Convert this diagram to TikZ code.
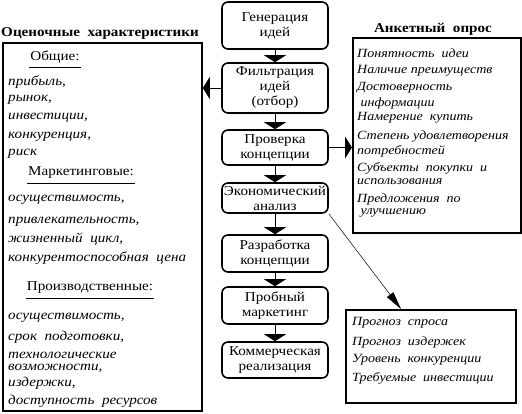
\documentclass[tikz,border=0pt]{standalone}
\usepackage{fontspec}
\setmainfont[FakeStretch=1.12]{Liberation Serif}
\usetikzlibrary{arrows.meta}
\tikzset{
  stage/.style={draw,line width=1.6pt,rounded corners=6pt,minimum width=106pt,align=center,inner sep=0pt,font=\fontsize{13.5}{15}\selectfont},
  panel/.style={draw,line width=1.8pt,anchor=north west},
  item/.style={anchor=west,inner sep=0pt,font=\fontsize{13.5}{14}\selectfont\itshape},
  answer/.style={item,font=\fontsize{12.5}{14}\selectfont\itshape},
  head/.style={inner xsep=1pt,inner ysep=4pt,font=\fontsize{13.5}{14}\selectfont},
  title/.style={font=\fontsize{13.5}{14}\selectfont\bfseries},
  flow/.style={-{Triangle[width=22pt,length=7pt]},line width=0.8pt},
  probe/.style={-{Triangle[width=8pt,length=18pt]},line width=0.5pt}
}
\begin{document}
\begin{tikzpicture}[x=1pt,y=-1pt]
\useasboundingbox (0,0) rectangle (522,414);
\node[stage,minimum height=47pt] (gen) at (275,25.5) {Генерация\\идей};
\node[stage,minimum height=50pt] (filtr) at (275,88) {Фильтрация\\идей\\(отбор)};
\node[stage,minimum height=35pt] (prov) at (275,147.5) {Проверка\\концепции};
\node[stage,minimum height=30pt] (econ) at (275,198) {Экономический\\анализ};
\node[stage,minimum height=37pt] (razr) at (275,253.5) {Разработка\\концепции};
\node[stage,minimum height=37pt] (prob) at (275,305.5) {Пробный\\маркетинг};
\node[stage,minimum height=36pt] (komm) at (275,360) {Коммерческая\\реализация};
\draw[flow] (gen) -- (filtr);
\draw[flow] (filtr) -- (prov);
\draw[flow] (prov) -- (econ);
\draw[flow] (econ) -- (razr);
\draw[flow] (razr) -- (prob);
\draw[flow] (prob) -- (komm);
\node[title] (ocenkaTitle) at (100,33) {Оценочные\ \ характеристики};
\node[panel,minimum width=199pt,minimum height=368pt] (ocenka) at (2,42) {};
\node[head] (obsh) at (55,57) {Общие:};
\draw[line width=0.8pt] (obsh.south west) -- (obsh.south east);
\foreach \t/\y [count=\i] in {{прибыль,}/82,{рынок,}/100,{инвестиции,}/118,{конкуренция,}/137,риск/154}
  \node[item] (obsh\i) at (8,\y) {\t};
\node[head] (mark) at (81,173) {Маркетинговые:};
\draw[line width=0.8pt] (mark.south west) -- (mark.south east);
\foreach \t/\y [count=\i] in {{осуществимость,}/200,{привлекательность,}/222,{жизненный\ \ цикл,}/239,{конкурентоспособная\ \ цена}/258}
  \node[item] (mark\i) at (8,\y) {\t};
\node[head] (proizv) at (90,288) {Производственные:};
\draw[line width=0.8pt] (proizv.south west) -- (proizv.south east);
\foreach \t/\y [count=\i] in {{осуществимость,}/318,{срок\ \ подготовки,}/337,технологические/355,{возможности,}/368,{издержки,}/383,{доступность\ \ ресурсов}/401}
  \node[item] (proizv\i) at (8,\y) {\t};
\node[title] (anketaTitle) at (433,29) {Анкетный\ \ опрос};
\node[panel,minimum width=168pt,minimum height=195pt] (anketa) at (352,37) {};
\foreach \t/\y [count=\i] in {{Понятность\ \ идеи}/53,{Наличие преимуществ}/71,Достоверность/88,{\ информации}/103,{Намерение\ \ купить}/118,{Степень удовлетворения}/137,потребностей/151,{Субъекты\ \ покупки\ \ и}/168,использования/182,{Предложения\ \ по}/199,{\ улучшению}/213}
  \node[answer] (anketa\i) at (357,\y) {\t};
\node[panel,minimum width=170pt,minimum height=93pt] (prognoz) at (345,309) {};
\foreach \t/\y [count=\i] in {{Прогноз\ \ спроса}/323,{Прогноз\ \ издержек}/342,{Уровень\ \ конкуренции}/360,{Требуемые\ \ инвестиции}/378}
  \node[answer] (prognoz\i) at (352,\y) {\t};
\draw[flow] (filtr.west) -- (filtr.west -| ocenka.east);
\draw[flow] (prov.east) -- (prov.east -| anketa.west);
\draw[probe] (econ.south east) -- ([xshift=56pt]prognoz.north west);
\end{tikzpicture}
\end{document}
